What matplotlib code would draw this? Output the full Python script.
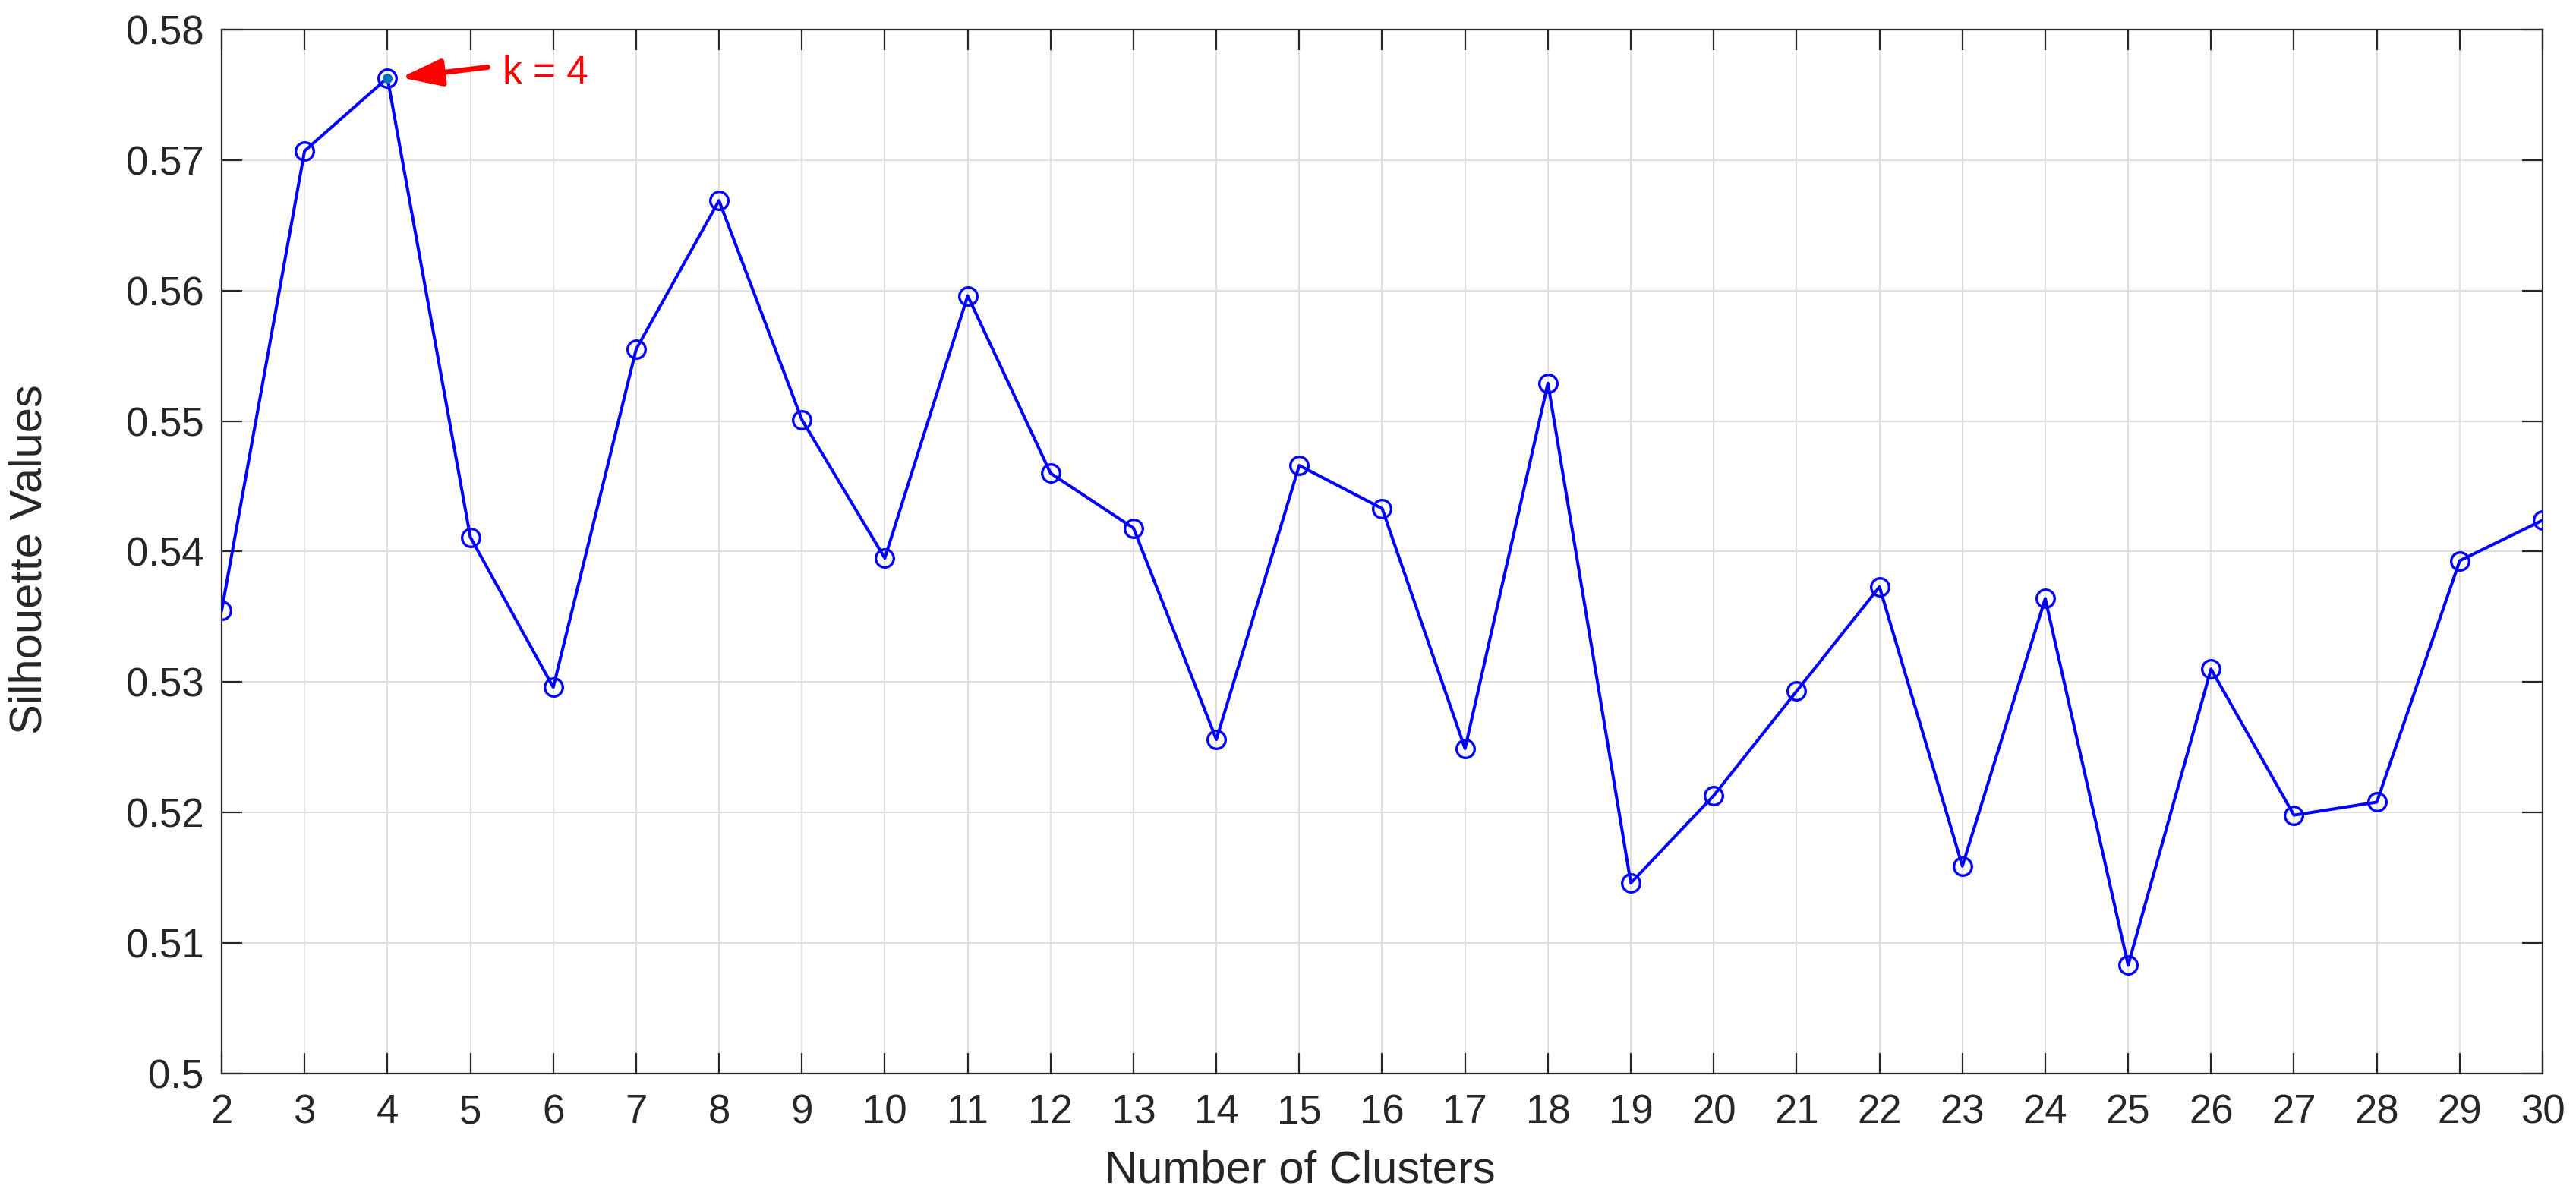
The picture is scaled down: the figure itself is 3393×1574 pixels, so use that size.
import matplotlib
matplotlib.use("Agg")
import matplotlib.pyplot as plt

clusters = list(range(2, 31))
silhouette = [0.5355, 0.5707, 0.5763, 0.5411, 0.5296, 0.5555, 0.5669, 0.5501,
              0.5395, 0.5596, 0.5460, 0.5418, 0.5256, 0.5466, 0.5433, 0.5249,
              0.5529, 0.5146, 0.5213, 0.5293, 0.5373, 0.5159, 0.5364, 0.5083,
              0.5310, 0.5198, 0.5208, 0.5393, 0.5424]
yticks = [0.5, 0.51, 0.52, 0.53, 0.54, 0.55, 0.56, 0.57, 0.58]
ytick_labels = ["0.5", "0.51", "0.52", "0.53", "0.54", "0.55", "0.56", "0.57", "0.58"]
best_k = 4

plt.rcParams['font.family'] = ['Liberation Sans', 'DejaVu Sans']

W, H = 3393, 1574
fig = plt.figure(figsize=(W / 100, H / 100), dpi=100)
left, right, top, bottom = 292, 3349, 39, 1414
ax = fig.add_axes([left / W, 1 - bottom / H, (right - left) / W, (bottom - top) / H])

ax.plot(clusters, silhouette, color='#0000FF', linewidth=2.9, marker='o',
        markersize=17, markerfacecolor='none', markeredgecolor='#0000FF',
        markeredgewidth=2.4, zorder=3)
bi = clusters.index(best_k)
ax.plot([clusters[bi]], [silhouette[bi]], marker='o', markersize=8.5,
        color='#0072BD', linestyle='none', zorder=4)

# arrow and label
ax.annotate('', xy=(4.16, 0.57633), xytext=(5.21, 0.57712),
            arrowprops=dict(arrowstyle='-|>,head_length=0.9,head_width=0.3',
                            color='#FF0000', lw=5, shrinkA=0, shrinkB=0,
                            mutation_scale=36))
ax.text(5.39, 0.57587, 'k = 4', color='#FF0000', fontsize=37,
        ha='left', va='baseline')

ax.set_xlim(2, 30)
ax.set_ylim(0.5, 0.58)
ax.set_xticks(clusters)
ax.set_yticks(yticks)
ax.set_yticklabels(ytick_labels)
ax.grid(True, color='#DFDFDF', linewidth=1.4)
ax.set_axisbelow(True)
ax.tick_params(direction='in', length=19.5, width=1.6, top=True, right=True,
               labelsize=38, colors='#262626')
ax.tick_params(axis='x', pad=19)
ax.tick_params(axis='y', pad=17)
for s in ax.spines.values():
    s.set_linewidth(1.6)
    s.set_color('#262626')

fig.text(1712 / W, 1 - 1558 / H, 'Number of Clusters', fontsize=43,
         color='#262626', ha='center', va='baseline')
fig.text(39 / W, 1 - 737 / H, 'Silhouette Values', fontsize=43,
         color='#262626', ha='center', va='center', rotation=90)

fig.savefig('out.png', dpi=100, facecolor='white')
